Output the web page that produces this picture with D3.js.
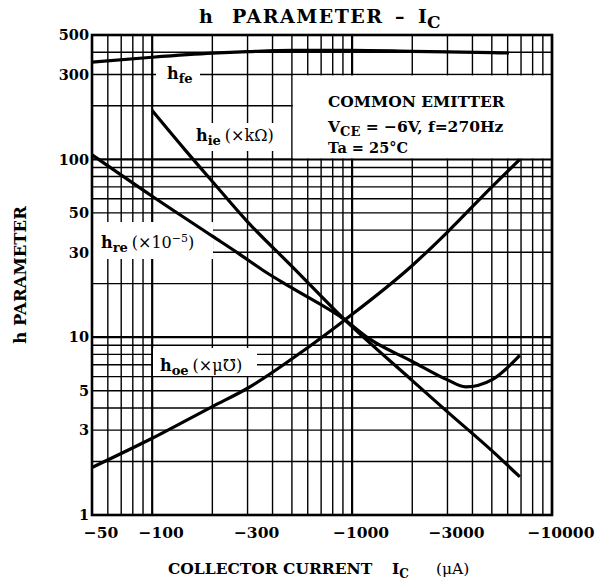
<!DOCTYPE html>
<meta charset="utf-8">
<script src="https://d3js.org/d3.v7.min.js"></script>
<body style="margin:0;background:#fff">
<svg width="602" height="582"></svg>
<script>
  // collector current (uA, drawn as negative on the axis) vs h parameter value
  var hfe = [[50,352],[100,375],[200,395],[300,403],[500,410],[1000,410],[2000,405],[3000,402],[5000,398],[6100,396]];
  var hie = [[100,188],[146,113],[200,75],[300,44.5],[500,25],[920,12.5],[2000,5.7],[3000,3.8],[5000,2.3],[6900,1.64]];
  var hre = [[50,106],[100,62],[200,37],[270,29.6],[366,23.4],[500,18.9],[920,12.5],[1200,9.9],[2000,7.3],[3000,5.75],[3700,5.25],[5000,5.75],[6900,7.9]];
  var hoe = [[50,1.85],[100,2.7],[200,4.07],[300,5.16],[580,8.5],[920,12.5],[2000,25.3],[3000,39],[5000,70],[6900,100]];

  var xTicks = [50, 100, 300, 1000, 3000, 10000];
  var yTicks = [1, 3, 5, 10, 30, 50, 100, 300, 500];

  var font = 'DejaVu Serif';
  var pLeft = 92, pRight = 552, pTop = 35, pBottom = 515;

  var svg = d3.select('svg').attr('font-family', font);

  var x = d3.scaleLog().domain([50, 10000]).range([pLeft, pRight]);
  var y = d3.scaleLog().domain([1, 500]).range([pBottom, pTop]);

  function isDecade(v){ return Math.abs(Math.log10(v) - Math.round(Math.log10(v))) < 1e-9; }

  /* ----------- GRID ----------- */

  svg.append('g').selectAll('line').data(x.ticks())
    .enter().append('line')
    .attr('x1', x).attr('x2', x)
    .attr('y1', pTop).attr('y2', pBottom)
    .attr('stroke', '#000')
    .attr('stroke-width', function(d){ return isDecade(d) ? 2.2 : 1.4; });

  svg.append('g').selectAll('line').data(y.ticks())
    .enter().append('line')
    .attr('y1', y).attr('y2', y)
    .attr('x1', pLeft).attr('x2', pRight)
    .attr('stroke', '#000')
    .attr('stroke-width', function(d){ return isDecade(d) ? 2.2 : 1.4; });

  /* ----------- label gaps in the grid ----------- */

  var gaps = [
    [156, 63, 44, 23],     // hfe
    [190, 123, 94, 28],    // hie
    [pLeft, 222, 121, 37], // hre
    [153, 348, 104, 28]    // hoe
  ];
  svg.append('g').selectAll('rect').data(gaps)
    .enter().append('rect')
    .attr('x', function(d){ return d[0]; })
    .attr('y', function(d){ return d[1]; })
    .attr('width', function(d){ return d[2]; })
    .attr('height', function(d){ return d[3]; })
    .attr('fill', '#fff');

  // conditions box
  svg.append('rect')
    .attr('x', x(500) + 1).attr('y', y(300) + 1)
    .attr('width', pRight - x(500) - 1)
    .attr('height', y(100) - y(300) - 2)
    .attr('fill', '#fff');

  /* ----------- frame ----------- */

  svg.append('rect')
    .attr('x', pLeft).attr('y', pTop)
    .attr('width', pRight - pLeft).attr('height', pBottom - pTop)
    .attr('fill', 'none').attr('stroke', '#000').attr('stroke-width', 2.6);

  /* ----------- curves ----------- */

  var line = d3.line()
    .x(function(d){ return x(d[0]); })
    .y(function(d){ return y(d[1]); })
    .curve(d3.curveMonotoneX);

  svg.append('g').selectAll('path').data([hfe, hie, hre, hoe])
    .enter().append('path')
    .attr('d', line)
    .attr('fill', 'none')
    .attr('stroke', '#000')
    .attr('stroke-width', 3.2)
    .attr('stroke-linejoin', 'round');

  /* ----------- tick labels ----------- */

  svg.append('g').selectAll('text').data(yTicks)
    .enter().append('text')
    .attr('x', 89)
    .attr('y', y)
    .attr('dy', '0.36em')
    .attr('text-anchor', 'end')
    .attr('font-size', 14.5)
    .attr('font-weight', 'bold')
    .text(function(d){ return d; });

  svg.append('g').selectAll('text').data(xTicks)
    .enter().append('text')
    .attr('x', function(d){ return x(d) + 9; })
    .attr('y', 538)
    .attr('text-anchor', 'middle')
    .attr('font-size', 15.5)
    .attr('font-weight', 'bold')
    .text(function(d){ return '\u2212' + d; });

  /* ----------- titles ----------- */

  var title = svg.append('text').attr('y', 23).attr('font-size', 19).attr('font-weight', 'bold');
  title.append('tspan').attr('x', 199).text('h');
  title.append('tspan').attr('x', 232).attr('letter-spacing', 1.5).text('PARAMETER');
  title.append('tspan').attr('x', 395).text('\u2013');
  title.append('tspan').attr('x', 418).text('I');
  title.append('tspan').attr('dy', 5).attr('font-size', 17).text('C');

  var xTitle = svg.append('text').attr('y', 574).attr('font-size', 15.5).attr('font-weight', 'bold');
  xTitle.append('tspan').attr('x', 168).text('COLLECTOR CURRENT');
  xTitle.append('tspan').attr('x', 392).text('I');
  xTitle.append('tspan').attr('dy', 4).attr('font-size', 12).text('C');
  xTitle.append('tspan').attr('x', 436).attr('dy', -4).attr('font-weight', 'normal').text('(\u03bcA)');

  svg.append('text')
    .attr('transform', 'translate(26,' + 275 + ') rotate(-90)')
    .attr('text-anchor', 'middle')
    .attr('font-size', 16.5)
    .attr('font-weight', 'bold')
    .text('h  PARAMETER');

  /* ----------- curve labels ----------- */

  function hLabel(px, py, sub){
    var t = svg.append('text').attr('x', px).attr('y', py).attr('font-size', 16).attr('font-weight', 'bold');
    t.append('tspan').text('h');
    t.append('tspan').attr('dy', 4).attr('font-size', 13).text(sub);
    return t;
  }

  hLabel(167, 79, 'fe');

  var ie = hLabel(196, 141, 'ie');
  ie.append('tspan').attr('dy', -4).attr('dx', 4).attr('font-weight', 'normal').attr('font-size', 16).text('(\u00d7k\u03a9)');

  var re = hLabel(101, 248, 're');
  re.append('tspan').attr('dy', -4).attr('dx', 4).attr('font-weight', 'normal').attr('font-size', 16).text('(\u00d710');
  re.append('tspan').attr('dy', -6).attr('font-size', 11).attr('font-weight', 'normal').text('\u22125');
  re.append('tspan').attr('dy', 6).attr('font-size', 16).attr('font-weight', 'normal').text(')');

  var oe = hLabel(160, 371, 'oe');
  oe.append('tspan').attr('dy', -4).attr('dx', 4).attr('font-weight', 'normal').attr('font-size', 16).text('(\u00d7\u03bc\u2127)');

  /* ----------- conditions ----------- */

  var cond = svg.append('g').attr('font-weight', 'bold');
  cond.append('text').attr('x', 328).attr('y', 107).attr('font-size', 15.5).text('COMMON EMITTER');
  var vce = cond.append('text').attr('x', 328).attr('y', 132).attr('font-size', 15.5);
  vce.append('tspan').text('V');
  vce.append('tspan').attr('dy', 4).attr('font-size', 13).text('CE');
  vce.append('tspan').attr('dy', -4).text(' = \u22126V, f=270Hz');
  cond.append('text').attr('x', 328).attr('y', 153).attr('font-size', 14.5).text('Ta = 25\u00b0C');
</script>
</body>
